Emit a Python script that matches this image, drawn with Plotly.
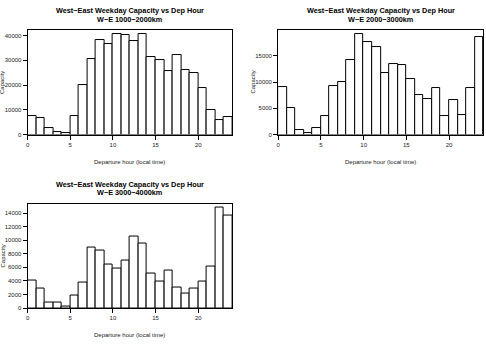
import plotly.graph_objects as go

hours = list(range(24))
cap_1000_2000 = [7300, 6750, 2650, 1060, 530, 7300, 19870, 30330, 38150, 36700, 40600, 40400,
                 37880, 40500, 31390, 30200, 25830, 32190, 26230, 25030, 18680, 9800, 5700, 6890]
cap_2000_3000 = [9000, 5060, 940, 375, 1250, 3560, 9310, 9940, 14125, 19125, 17560, 16625,
                 11625, 13375, 13250, 10500, 7500, 6810, 8810, 3560, 6625, 3750, 8810, 18625]
cap_3000_4000 = [4100, 2860, 870, 870, 150, 1890, 3780, 8870, 8430, 6350, 5860, 7070,
                 10560, 9540, 5040, 3920, 5520, 3000, 2180, 2950, 3920, 6150, 14830, 13710]

titles = ["W\u2212E 1000\u22122000km", "W\u2212E 2000\u22123000km", "W\u2212E 3000\u22124000km"]
main_title = "West\u2212East Weekday Capacity vs Dep Hour"
y_ticks = [[0, 10000, 20000, 30000, 40000],
           [0, 5000, 10000, 15000],
           [0, 2000, 4000, 6000, 8000, 10000, 12000, 14000]]
x_ticks = [0, 5, 10, 15, 20]

W, H = 486, 350
FONT = "Liberation Sans, Arial, Helvetica, sans-serif"

# pixel boxes (left, right, top, bottom)
boxes = [(25.7, 231.3, 30.3, 135.7), (277.3, 483.3, 30.3, 135.7), (25.7, 231.3, 205.3, 310.7)]
series = [cap_1000_2000, cap_2000_3000, cap_3000_4000]

fig = go.Figure()
annotations = []
for i, (vals, box, sub, yt) in enumerate(zip(series, boxes, titles, y_ticks)):
    l, r, t, b = box
    xa = "x" if i == 0 else f"x{i+1}"
    ya = "y" if i == 0 else f"y{i+1}"
    fig.add_trace(go.Bar(x=[h + 0.5 for h in hours], y=vals, width=1,
                         marker=dict(color="white", line=dict(color="black", width=1)),
                         xaxis=xa, yaxis=ya, showlegend=False))
    axx = dict(domain=[l / W, r / W], range=[0, 24], tickvals=x_ticks, ticks="outside",
               ticklen=4, tickwidth=1, tickcolor="black", showline=True, mirror=True,
               linecolor="black", linewidth=1, showgrid=False, zeroline=False,
               tickfont=dict(family=FONT, size=6, color="#222"), anchor=ya)
    axy = dict(domain=[1 - b / H, 1 - t / H], range=[0, max(vals) * 1.04], tickvals=yt,
               ticktext=[str(v) for v in yt],
               ticks="outside", ticklen=4, tickwidth=1, tickcolor="black", showline=True,
               mirror=True, linecolor="black", linewidth=1, showgrid=False, zeroline=False,
               tickfont=dict(family=FONT, size=6, color="#222"), anchor=xa)
    key = "" if i == 0 else str(i + 1)
    fig.update_layout(**{f"xaxis{key}": axx, f"yaxis{key}": axy})
    cx = (l + r) / 2
    off = 0 if i < 2 else 175
    annotations.append(dict(x=cx / W, y=1 - (off + 11.0) / H,
                            xref="paper", yref="paper", showarrow=False,
                            text=f"<b>{main_title}</b>", xanchor="center", yanchor="middle",
                            font=dict(family=FONT, size=7.3, color="black")))
    annotations.append(dict(x=cx / W, y=1 - (off + 19.6) / H,
                            xref="paper", yref="paper", showarrow=False,
                            text=f"<b>{sub}</b>", xanchor="center", yanchor="middle",
                            font=dict(family=FONT, size=7.3, color="black")))
    annotations.append(dict(x=cx / W, y=1 - (b + 27.3) / H, xref="paper", yref="paper",
                            showarrow=False, text="Departure hour (local time)",
                            xanchor="center", yanchor="middle",
                            font=dict(family=FONT, size=6, color="#222")))
    annotations.append(dict(x=(l - 25) / W, y=1 - ((t + b) / 2) / H, xref="paper", yref="paper",
                            showarrow=False, text="Capacity", textangle=-90,
                            xanchor="center", yanchor="middle",
                            font=dict(family=FONT, size=6, color="#222")))

fig.update_layout(width=W, height=H, margin=dict(l=0, r=0, t=0, b=0),
                  paper_bgcolor="white", plot_bgcolor="white", bargap=0,
                  annotations=annotations)
fig.write_html("out.html")
